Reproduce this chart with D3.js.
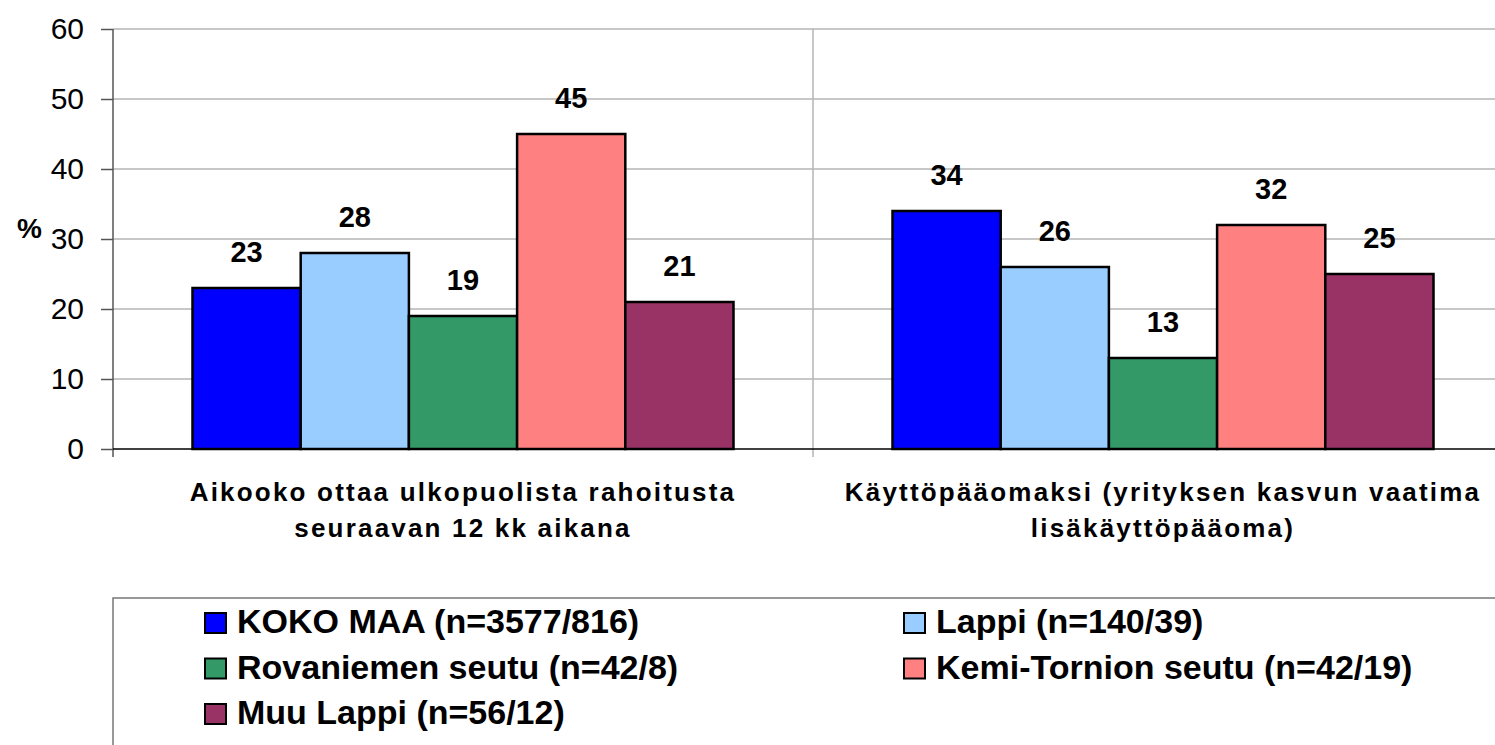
<!DOCTYPE html>
<html>
<head>
<meta charset="utf-8">
<script src="https://cdn.jsdelivr.net/npm/d3@7"></script>
<style>
  body { margin: 0; background: #fff; }
  svg { display: block; font-family: "Liberation Sans", Arial, sans-serif; }
</style>
</head>
<body>
<div id="grafico"></div>
<script>
var categorias = [
    ["Aikooko ottaa ulkopuolista rahoitusta", "seuraavan 12 kk aikana"],
    ["Käyttöpääomaksi (yrityksen kasvun vaatima", "lisäkäyttöpääoma)"]
];
var series = ["KOKO MAA (n=3577/816)", "Lappi (n=140/39)", "Rovaniemen seutu (n=42/8)",
    "Kemi-Tornion seutu (n=42/19)", "Muu Lappi (n=56/12)"];
var valores = [
    [23, 34],
    [28, 26],
    [19, 13],
    [45, 32],
    [21, 25]
];
var colores = ["#0000ff", "#99ccff", "#339966", "#ff8080", "#993366"];
var ticksY = [0, 10, 20, 30, 40, 50, 60];

var W = 1495, H = 745;
var svg = d3.select("#grafico").append("svg").attr("width", W).attr("height", H);

var claves = categorias.map(function (d, i) { return i; });
var x0 = d3.scaleBand().domain(claves).range([113, 1513]);
var x1 = d3.scaleBand().domain(d3.range(series.length)).range([79.5, 620.5]);
var y = d3.scaleLinear().domain([0, 60]).range([449, 29]);

// gridlines
svg.append("g").selectAll("line")
    .data(ticksY.filter(function (d) { return d > 0; }))
    .enter().append("line")
    .attr("x1", 113).attr("x2", W)
    .attr("y1", function (d) { return y(d); })
    .attr("y2", function (d) { return y(d); })
    .attr("stroke", "#b4b4b4").attr("stroke-width", 1.5);

// divider between categories
svg.append("line")
    .attr("x1", x0(1)).attr("x2", x0(1))
    .attr("y1", y(60)).attr("y2", y(0) + 8)
    .attr("stroke", "#b4b4b4").attr("stroke-width", 1.5);

// y axis
var ejeY = svg.append("g")
    .attr("transform", "translate(113,0)")
    .call(d3.axisLeft(y).tickValues(ticksY).tickSize(12).tickPadding(17));
ejeY.select(".domain").attr("stroke", "#555").attr("stroke-width", 1.5)
    .attr("d", "M0," + y(60) + "V" + (y(0) + 8));
ejeY.selectAll(".tick line").attr("stroke", "#555").attr("stroke-width", 1.5);
ejeY.selectAll(".tick text")
    .attr("font-family", "Liberation Sans, Arial, sans-serif")
    .attr("font-size", 30).attr("fill", "#000").attr("dy", "0.3em");

svg.append("text")
    .attr("x", 29.5).attr("y", 238)
    .attr("text-anchor", "middle")
    .attr("font-size", 28).attr("font-weight", "bold")
    .text("%");

// bars
var grupos = svg.append("g").selectAll("g")
    .data(series)
    .enter().append("g");

grupos.each(function (s, i) {
    var g = d3.select(this);
    g.selectAll("rect")
        .data(valores[i])
        .enter().append("rect")
        .attr("x", function (d, j) { return x0(j) + x1(i); })
        .attr("y", function (d) { return y(d); })
        .attr("width", x1.bandwidth())
        .attr("height", function (d) { return y(0) - y(d); })
        .attr("fill", colores[i])
        .attr("stroke", "#000").attr("stroke-width", 2.5);
    g.selectAll("text")
        .data(valores[i])
        .enter().append("text")
        .attr("x", function (d, j) { return x0(j) + x1(i) + x1.bandwidth() / 2; })
        .attr("y", function (d) { return y(d) - 26; })
        .attr("text-anchor", "middle")
        .attr("font-size", 29).attr("font-weight", "bold")
        .text(function (d) { return d; });
});

// baseline
svg.append("line")
    .attr("x1", 113).attr("x2", W)
    .attr("y1", y(0)).attr("y2", y(0))
    .attr("stroke", "#000").attr("stroke-width", 1.5);

// category labels
var etiquetas = svg.append("g").selectAll("text")
    .data(categorias)
    .enter().append("text")
    .attr("text-anchor", "middle")
    .attr("font-size", 26).attr("font-weight", "bold")
    .attr("letter-spacing", "2.2px")
    .attr("x", function (d, j) { return x0(j) + x0.bandwidth() / 2; })
    .attr("y", 501);
etiquetas.selectAll("tspan")
    .data(function (d) { return d; })
    .enter().append("tspan")
    .attr("x", function () { return d3.select(this.parentNode).attr("x"); })
    .attr("dy", function (d, k) { return k === 0 ? 0 : 36; })
    .text(function (d) { return d; });

// legend
svg.append("rect")
    .attr("x", 113).attr("y", 598)
    .attr("width", 1500).attr("height", 200)
    .attr("fill", "none").attr("stroke", "#777").attr("stroke-width", 1.5);

var leyenda = svg.append("g").selectAll("g")
    .data(series)
    .enter().append("g")
    .attr("transform", function (d, i) {
        var col = i % 2, fila = Math.floor(i / 2);
        return "translate(" + (col === 0 ? 205 : 904) + "," + (623 + fila * 45.5) + ")";
    });
leyenda.append("rect")
    .attr("x", 0).attr("y", -10)
    .attr("width", 21).attr("height", 20)
    .attr("fill", function (d, i) { return colores[i]; })
    .attr("stroke", "#000").attr("stroke-width", 2);
leyenda.append("text")
    .attr("x", 32).attr("y", 10)
    .attr("font-size", 34).attr("font-weight", "bold")
    .text(function (d) { return d; });
</script>
</body>
</html>
